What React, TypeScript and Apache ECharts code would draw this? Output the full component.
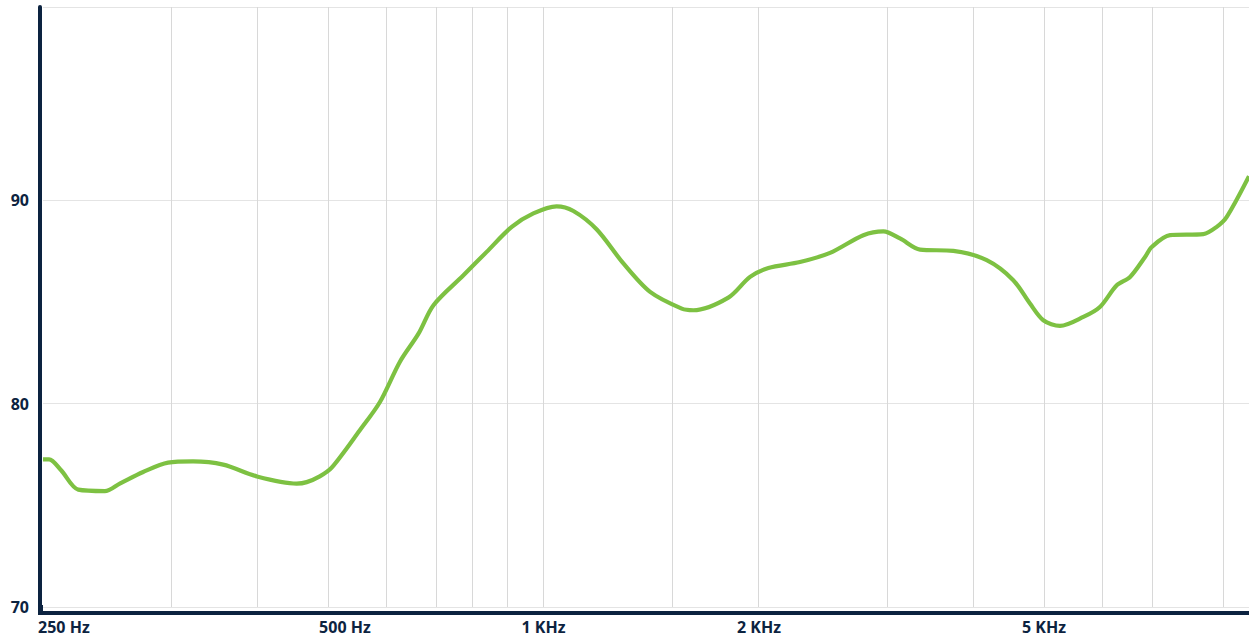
import React, { useEffect, useRef } from "react";
import * as echarts from "echarts";

// Frequency response (Hz -> dB)
const frequencies = [200, 204, 212, 224, 244, 256, 276, 299, 324, 357, 398, 452, 467, 487, 506, 554, 591, 630, 669, 702, 773, 833, 903, 968, 1043, 1101, 1187, 1293, 1409, 1560, 1619, 1812, 1943, 2061, 2281, 2513, 2797, 2983, 3147, 3357, 3736, 4159, 4530, 4780, 4989, 5264, 5675, 5985, 6318, 6595, 6920, 7070, 7499, 8347, 8714, 9000, 9667];
const levels = [77.26, 77.26, 76.72, 75.77, 75.7, 76.07, 76.64, 77.1, 77.16, 77.0, 76.42, 76.07, 76.14, 76.42, 76.85, 78.69, 80.08, 82.05, 83.44, 84.84, 86.31, 87.46, 88.69, 89.35, 89.7, 89.47, 88.56, 86.89, 85.49, 84.67, 84.59, 85.21, 86.23, 86.67, 86.96, 87.41, 88.28, 88.47, 88.12, 87.57, 87.51, 87.05, 86.07, 84.92, 84.1, 83.82, 84.26, 84.75, 85.82, 86.23, 87.21, 87.7, 88.28, 88.33, 88.69, 89.18, 91.18];

// Axis extents
const xMinHz = 200;
const xMaxHz = 9667;
const yMin = 70;
const yMax = 99.5;
const yInterval = 10;

// Vertical grid lines (Hz)
const gridFrequencies = [300, 400, 500, 600, 700, 800, 900, 1000, 1500, 2000, 3000, 4000, 5000, 6000, 7000, 9000];

// X tick labels
const xTickHz = [250, 500, 1000, 2000, 5000];
const xTickLabels = ["250 Hz", "500 Hz", "1 KHz", "2 KHz", "5 KHz"];
const xTickStyle = ["first", "second", "c", "c", "c"];

const NAVY = "#0c2340";
const FONT = "Open Sans";
const FS = 16;

export default function App() {
  const ref = useRef<HTMLDivElement>(null);

  useEffect(() => {
    if (!ref.current) return;
    const chart = echarts.init(ref.current, null, { renderer: "svg" });
    const lg = (f: number) => Math.log10(f);
    const txt = { color: NAVY, fontWeight: "bold", fontSize: FS, fontFamily: FONT };

    const option = {
      animation: false,
      backgroundColor: "#ffffff",
      grid: { left: 43, right: 0, top: 7, bottom: 32, containLabel: false },
      xAxis: {
        type: "value",
        min: lg(xMinHz),
        max: lg(xMaxHz),
        offset: 6,
        axisLine: { show: true, lineStyle: { color: NAVY, width: 4 } },
        axisTick: { show: false },
        splitLine: { show: false },
        axisLabel: {
          show: true,
          customValues: xTickHz.map(lg),
          margin: 6,
          ...txt,
          formatter: (v: number) => {
            let best = 0;
            xTickHz.forEach((f, i) => {
              if (Math.abs(lg(f) - v) < Math.abs(lg(xTickHz[best]) - v)) best = i;
            });
            return `{${xTickStyle[best]}|${xTickLabels[best]}}`;
          },
          rich: {
            first: { padding: [0, 97, 0, 0], ...txt },
            second: { padding: [0, 0, 0, 34], ...txt },
            c: { ...txt },
          },
        },
      },
      yAxis: {
        type: "value",
        min: yMin,
        max: yMax,
        interval: yInterval,
        offset: 3,
        axisLine: { show: true, lineStyle: { color: NAVY, width: 4 } },
        axisTick: { show: false },
        splitLine: { show: true, lineStyle: { color: "#e4e4e4", width: 1 } },
        axisLabel: {
          showMaxLabel: false,
          margin: 11,
          ...txt,
        },
      },
      graphic: [
        {
          type: "rect",
          shape: { x: 38, y: 605, width: 5, height: 10 },
          style: { fill: NAVY },
          z: 10,
        },
      ],
      series: [
        {
          type: "line",
          data: [],
          z: 1,
          silent: true,
          markLine: {
            silent: true,
            symbol: ["none", "none"],
            label: { show: false },
            lineStyle: { color: "#d8d8d8", width: 1, type: "solid" },
            emphasis: { disabled: true },
            data: gridFrequencies.map((f) => ({ xAxis: lg(f) })),
          },
        },
        {
          type: "line",
          z: 5,
          data: frequencies.map((f, i) => [lg(f), levels[i]]),
          smooth: 0.3,
          showSymbol: false,
          symbol: "none",
          lineStyle: { color: "#7dc142", width: 4.2 },
          itemStyle: { color: "#7dc142" },
        },
      ],
    };

    chart.setOption(option as any);
    return () => chart.dispose();
  }, []);

  return (
    <div
      ref={ref}
      style={{ position: "fixed", left: 0, top: 0, width: 1249, height: 639 }}
    />
  );
}
